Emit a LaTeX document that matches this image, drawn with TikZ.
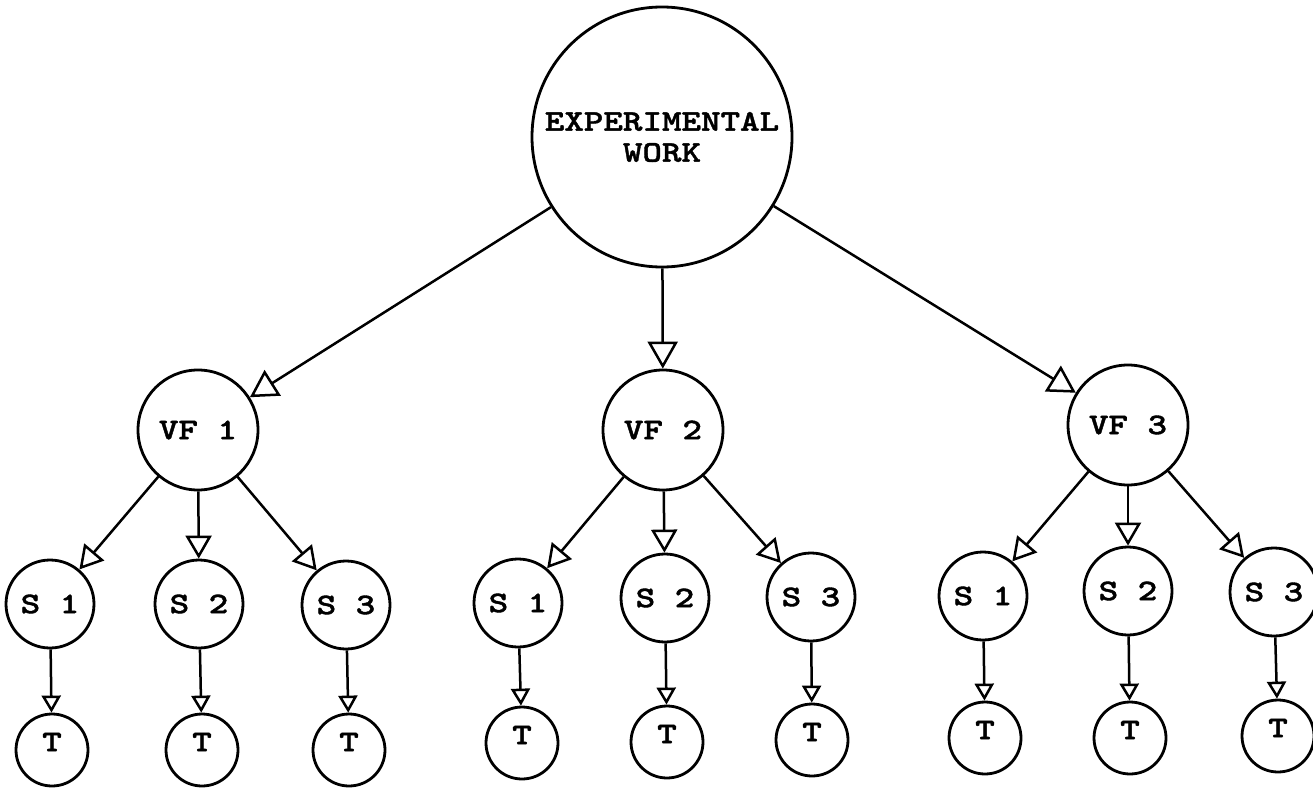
\documentclass[tikz,border=0pt]{standalone}
\usepackage{fontspec}
\newfontfamily\twfont[FakeStretch=1.24,FakeBold=1.3]{lmmonolt10-bold.otf}
\usetikzlibrary{arrows.meta}
\tikzset{
  bub/.style={circle, draw, line width=2.8pt, inner sep=0pt,
    font=\twfont\fontsize{30}{31}\selectfont},
  topnode/.style={bub, minimum size=260pt, align=center},
  vfnode/.style={bub, minimum size=120pt},
  snode/.style={bub, minimum size=88pt},
  tnode/.style={bub, minimum size=72pt, text depth=16pt},
  bigarr/.style={line width=2.5pt, -{Triangle[open, length=27pt, width=30pt, fill=white]}},
  midarr/.style={line width=2.5pt, -{Triangle[open, length=23pt, width=26pt, fill=white]}},
  smallarr/.style={line width=2.5pt, -{Triangle[open, length=17pt, width=19pt, fill=white]}},
}
\begin{document}
\begin{tikzpicture}[x=1pt, y=-1pt]
\useasboundingbox (0,0) rectangle (1313,789);
% top
\node[topnode] (top) at (662,137) {EXPERIMENTAL\\WORK};
% VF row
\node[vfnode] (vf1) at (198,430) {VF 1};
\node[vfnode] (vf2) at (663,430) {VF 2};
\node[vfnode] (vf3) at (1128,425) {VF 3};
% S row
\node[snode] (a1) at (50,604) {S 1};
\node[snode] (a2) at (199,604) {S 2};
\node[snode] (a3) at (346,605) {S 3};
\node[snode] (b1) at (518,603) {S 1};
\node[snode] (b2) at (665,598) {S 2};
\node[snode] (b3) at (811,597) {S 3};
\node[snode] (c1) at (983,596) {S 1};
\node[snode] (c2) at (1128,591) {S 2};
\node[snode] (c3) at (1274,592) {S 3};
% T row
\node[tnode] (ta1) at (52,750) {T};
\node[tnode] (ta2) at (202,750) {T};
\node[tnode] (ta3) at (349,750) {T};
\node[tnode] (tb1) at (522,743) {T};
\node[tnode] (tb2) at (667,742) {T};
\node[tnode] (tb3) at (812,740) {T};
\node[tnode] (tc1) at (985,738) {T};
\node[tnode] (tc2) at (1130,738) {T};
\node[tnode] (tc3) at (1278,736) {T};
% arrows
\draw[bigarr] (top) -- (vf1);
\draw[bigarr] (top) -- (vf2);
\draw[bigarr] (top) -- (vf3);
\foreach \v/\s in {vf1/a1, vf1/a2, vf1/a3, vf2/b1, vf2/b2, vf2/b3, vf3/c1, vf3/c2, vf3/c3}
  \draw[midarr] (\v) -- (\s);
\foreach \s/\t in {a1/ta1, a2/ta2, a3/ta3, b1/tb1, b2/tb2, b3/tb3, c1/tc1, c2/tc2, c3/tc3}
  \draw[smallarr] (\s) -- (\t);
\end{tikzpicture}
\end{document}
